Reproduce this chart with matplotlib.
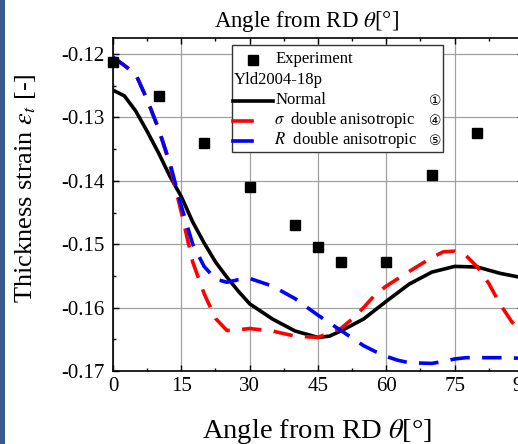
import matplotlib
matplotlib.use("Agg")
import matplotlib.pyplot as plt
from matplotlib.lines import Line2D
from matplotlib.patches import Rectangle
from matplotlib.ticker import MultipleLocator

plt.rcParams["font.family"] = ["Liberation Serif", "DejaVu Sans"]
plt.rcParams["mathtext.fontset"] = "stix"

# experiment
exp_angle = [0, 10, 20, 30, 40, 45, 50, 60, 70, 80]
exp_strain = [-0.1212, -0.1266, -0.1341, -0.1409, -0.1470, -0.1505,
              -0.1528, -0.1528, -0.1391, -0.1325]

# Yld2004-18p, normal
normal_angle = [0, 2.5, 5, 7.5, 10, 12.5, 15, 17.5, 20, 22.5, 25, 27.5, 30,
                35, 40, 45, 47.5, 50, 55, 60, 65, 70, 75, 80, 85, 90]
normal_strain = [-0.1257, -0.1266, -0.1290, -0.1322, -0.1356, -0.1393,
                 -0.1425, -0.1465, -0.1498, -0.1528, -0.1552, -0.1574,
                 -0.1594, -0.1618, -0.1637, -0.1647, -0.1645, -0.1637,
                 -0.1618, -0.1590, -0.1563, -0.1544, -0.1535, -0.1536,
                 -0.1546, -0.1553]

# sigma double anisotropic
sig_angle = [0, 2.5, 5, 7.5, 10, 12.5, 15, 17.5, 20, 22.5, 25, 27.5, 30,
             35, 40, 45, 50, 52.5, 55, 57.5, 60, 65, 70, 72.5, 75, 77.5,
             80, 82.5, 85, 87.5, 90]
sig_strain = [-0.1205, -0.1218, -0.1232, -0.1272, -0.1318, -0.1375,
              -0.1450, -0.1528, -0.1578, -0.1617, -0.1636, -0.1635,
              -0.1633, -0.1637, -0.1645, -0.1647, -0.1633, -0.1618,
              -0.1600, -0.1580, -0.1566, -0.1543, -0.1521, -0.1512,
              -0.1511, -0.1518, -0.1536, -0.1562, -0.1595, -0.1622,
              -0.1642]

# R double anisotropic
r_angle = [0, 2.5, 5, 7.5, 10, 12.5, 15, 17.5, 20, 22.5, 25, 27.5, 30,
           35, 40, 42.5, 45, 47.5, 50, 55, 57.5, 60, 62.5, 65, 70, 72.5,
           75, 77.5, 80, 85, 90]
r_strain = [-0.1205, -0.1218, -0.1232, -0.1272, -0.1318, -0.1372,
            -0.1440, -0.1500, -0.1535, -0.1555, -0.1560, -0.1556,
            -0.1554, -0.1566, -0.1586, -0.1599, -0.1612, -0.1624,
            -0.1636, -0.1660, -0.1669, -0.1677, -0.1683, -0.1687,
            -0.1688, -0.1685, -0.1681, -0.1679, -0.1679, -0.1679,
            -0.1680]

W, H = 518, 444
fig = plt.figure(figsize=(W / 100, H / 100), dpi=100)


def fx(px):
    return px / W


def fy(py):
    return 1 - py / H


ax = fig.add_axes([fx(113), fy(371), (523 - 113) / W, (371 - 38) / H])

ax.plot(normal_angle, normal_strain, color="black", lw=2.6, zorder=3)
ax.plot(sig_angle, sig_strain, color="#ff0000", lw=2.6, dashes=(5.4, 3.4),
        dash_capstyle="butt", zorder=3)
ax.plot(r_angle, r_strain, color="#0000ff", lw=2.6, dashes=(5.4, 3.4),
        dash_capstyle="butt", zorder=4)
ax.plot(exp_angle, exp_strain, "s", color="black", ms=6.8, zorder=5,
        clip_on=False)

ax.set_xlim(0, 90)
ax.set_ylim(-0.17, -0.11747)
ax.xaxis.set_major_locator(MultipleLocator(15))
ax.xaxis.set_minor_locator(MultipleLocator(7.5))
ax.yaxis.set_major_locator(MultipleLocator(0.01))
ax.yaxis.set_minor_locator(MultipleLocator(0.005))
ax.yaxis.set_major_formatter(plt.FuncFormatter(lambda v, p: f"{v:.2f}"))
ax.grid(True, which="major", color="#a0a0a0", lw=0.9)
ax.tick_params(which="both", direction="in", top=True, right=True,
               labelsize=15, width=1.0)
ax.tick_params(which="major", length=4)
ax.tick_params(which="minor", length=2.5)
ax.tick_params(axis="x", pad=4)
ax.tick_params(axis="y", pad=6)
for s in ax.spines.values():
    s.set_linewidth(1.2)

fig.text(fx(317), fy(431), r"Angle from RD $\theta$[°]", fontsize=20.5,
         ha="center", va="center")
fig.text(fx(306), fy(21), r"Angle from RD $\theta$[°]", fontsize=16.5,
         ha="center", va="center")
fig.text(fx(26), fy(188), r"Thickness strain $\varepsilon_t$ [-]",
         fontsize=19, rotation=90, ha="center", va="center")

# legend box
fig.add_artist(Rectangle((fx(232), fy(152)), (443 - 232) / W, (152 - 45) / H,
                         transform=fig.transFigure, facecolor="white",
                         edgecolor="#333333", lw=1.0, zorder=6))
fig.add_artist(Line2D([fx(253)], [fy(60)], marker="s", ms=6.8, color="black",
                      transform=fig.transFigure, zorder=7))
fig.add_artist(Line2D([fx(233), fx(273)], [fy(101), fy(101)], color="black",
                      lw=2.6, transform=fig.transFigure, zorder=7))
fig.add_artist(Line2D([fx(233), fx(252)], [fy(121), fy(121)], color="#ff0000",
                      lw=2.6, transform=fig.transFigure, zorder=7))
fig.add_artist(Line2D([fx(233), fx(252)], [fy(141), fy(141)], color="#0000ff",
                      lw=2.6, transform=fig.transFigure, zorder=7))
leg_kw = dict(fontsize=12, va="center", zorder=8)
fig.text(fx(276), fy(59), "Experiment", **leg_kw)
fig.text(fx(234), fy(80), "Yld2004-18p", **leg_kw)
fig.text(fx(276), fy(100), "Normal", **leg_kw)
fig.text(fx(274), fy(120), r"$\sigma$  double anisotropic", **leg_kw)
fig.text(fx(274), fy(140), r"$R$  double anisotropic", **leg_kw)
num_kw = dict(fontsize=10, va="center", ha="center", family="DejaVu Sans",
              zorder=8)
fig.text(fx(435), fy(101), "①", **num_kw)
fig.text(fx(435), fy(121), "④", **num_kw)
fig.text(fx(435), fy(141), "⑤", **num_kw)

# left border strip
fig.add_artist(Rectangle((0, 0), 5 / W, 1, transform=fig.transFigure,
                         facecolor="#3d5a8c", edgecolor="none"))

fig.savefig("out.png", dpi=100)
